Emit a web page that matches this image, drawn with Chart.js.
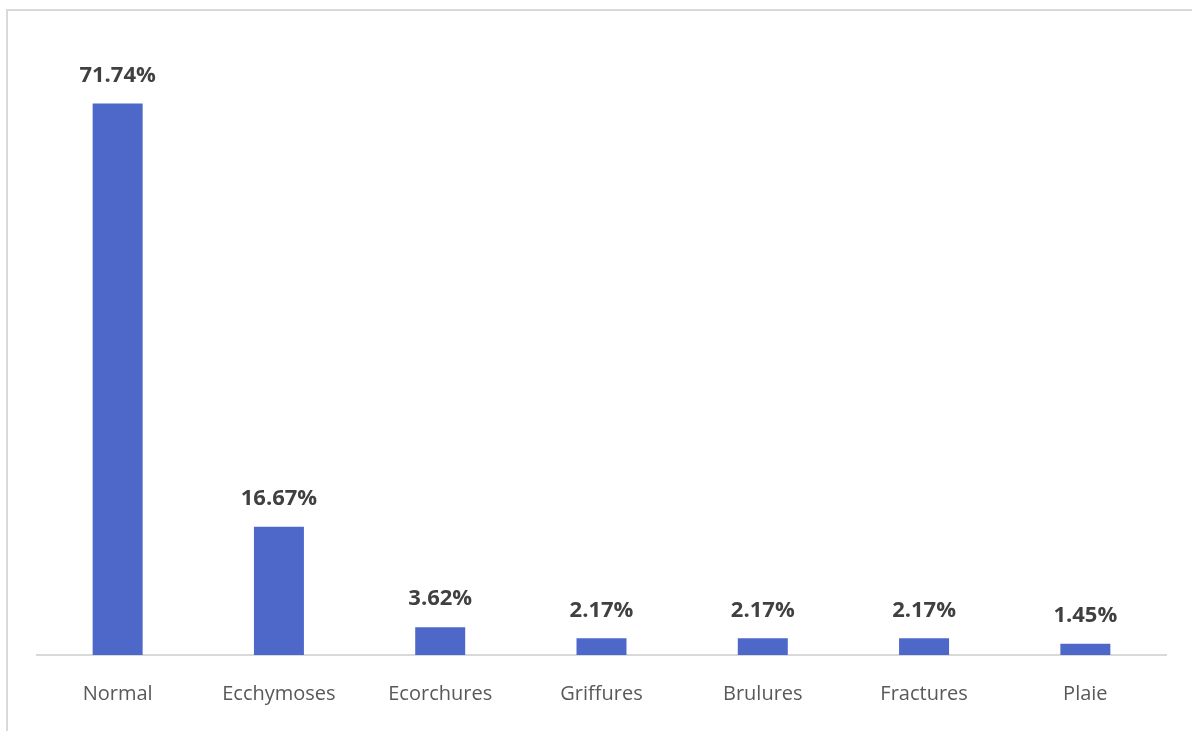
<!DOCTYPE html>
<html>
<head>
<meta charset="utf-8">
<script src="https://cdn.jsdelivr.net/npm/chart.js@4.4.0/dist/chart.umd.min.js"></script>
<style>
  html, body { margin: 0; padding: 0; background: #fff; overflow: hidden; }
  #frame {
    position: absolute; left: 6px; top: 9px; width: 1200px; height: 740px;
    border-left: 2px solid #d9d9d9; border-top: 2px solid #d9d9d9;
  }
  #wrap { position: absolute; left: 0; top: 2px; width: 1192px; height: 731px; }
</style>
</head>
<body>
<div id="frame"></div>
<div id="wrap"><canvas id="chart"></canvas></div>
<script>
const categories = ['Normal', 'Ecchymoses', 'Ecorchures', 'Griffures', 'Brulures', 'Fractures', 'Plaie'];
const percentages = [71.74, 16.67, 3.62, 2.17, 2.17, 2.17, 1.45];

const FONT = '"Open Sans", sans-serif';

// writes the percentage above each bar
const valueLabels = {
  id: 'valueLabels',
  afterDatasetsDraw(chart) {
    const ctx = chart.ctx;
    const meta = chart.getDatasetMeta(0);
    ctx.save();
    ctx.font = 'bold 22px ' + FONT;
    ctx.fillStyle = '#404040';
    ctx.textAlign = 'center';
    ctx.textBaseline = 'middle';
    meta.data.forEach((bar, i) => {
      ctx.fillText(percentages[i].toFixed(2) + '%', bar.x, bar.y - 28);
    });
    ctx.restore();
  }
};

new Chart(document.getElementById('chart'), {
  type: 'bar',
  data: {
    labels: categories,
    datasets: [{
      data: percentages,
      backgroundColor: '#4e68c9',
      categoryPercentage: 1,
      barPercentage: 0.31
    }]
  },
  options: {
    responsive: true,
    maintainAspectRatio: false,
    animation: false,
    layout: { padding: { left: 37, right: 26, top: 38, bottom: 0 } },
    plugins: { legend: { display: false }, tooltip: { enabled: false } },
    scales: {
      x: {
        grid: { display: false, drawTicks: false },
        border: { display: true, color: '#d9d9d9', width: 2 },
        ticks: { color: '#595959', padding: 27, font: { family: FONT, size: 20 } }
      },
      y: { display: false, min: 0, max: 80 }
    }
  },
  plugins: [valueLabels]
});
</script>
</body>
</html>
